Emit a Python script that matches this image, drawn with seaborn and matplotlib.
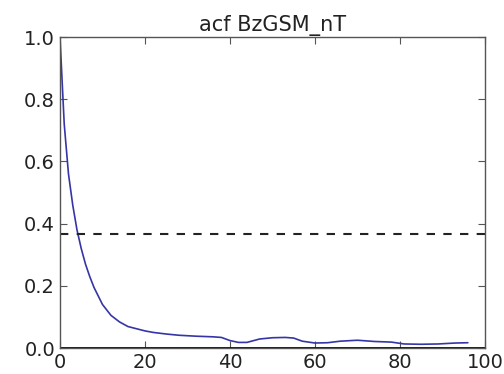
import matplotlib
matplotlib.use("Agg")
import matplotlib.pyplot as plt
import seaborn as sns
import pandas as pd

title = "acf BzGSM_nT"
lags = [0, 1, 2, 3, 4, 5, 6, 7, 8, 10, 12, 14, 16, 18, 20, 22, 25, 28, 32, 36,
        38, 40, 42, 44, 47, 50, 53, 55, 57, 60, 63, 66, 70, 74, 78, 81, 85, 89, 93, 96]
acf_values = [1.0, 0.72, 0.56, 0.46, 0.38, 0.32, 0.27, 0.23, 0.195, 0.14, 0.105, 0.084,
              0.069, 0.062, 0.055, 0.050, 0.045, 0.041, 0.038, 0.036, 0.034, 0.024,
              0.018, 0.018, 0.029, 0.033, 0.034, 0.032, 0.022, 0.016, 0.017, 0.022,
              0.025, 0.021, 0.019, 0.013, 0.012, 0.013, 0.016, 0.017]
threshold = 0.368
x_ticks = [0, 20, 40, 60, 80, 100]
y_ticks = [0.0, 0.2, 0.4, 0.6, 0.8, 1.0]

sns.set_style("ticks")
plt.rcParams['font.family'] = ['DejaVu Sans']

df = pd.DataFrame({"lag": lags, "acf": acf_values})

fig = plt.figure(figsize=(5.04, 3.74), dpi=100)
ax = fig.add_axes([0.119, 0.0695, 0.843, 0.8315])
sns.lineplot(data=df, x="lag", y="acf", ax=ax, color="#3535a8", linewidth=1.2)
ax.axhline(threshold, color="#222222", linestyle=(0, (4, 4)), linewidth=1.5)
ax.axhline(0, color="black", linewidth=2)

ax.set_xlim(0, 100)
ax.set_ylim(0, 1)
ax.set_xticks(x_ticks)
ax.set_yticks(y_ticks)
ax.set_xticklabels([str(t) for t in x_ticks])
ax.set_yticklabels([f"{t:.1f}" for t in y_ticks])
ax.tick_params(direction="in", top=True, right=True, length=5, labelsize=14,
               colors="#555555", labelcolor="#222222")
for s in ax.spines.values():
    s.set_color("#555555")
    s.set_linewidth(1)
ax.set_xlabel("")
ax.set_ylabel("")
ax.set_title(title, fontsize=15, color="#222222", pad=4)
fig.savefig("out.png", dpi=100)
